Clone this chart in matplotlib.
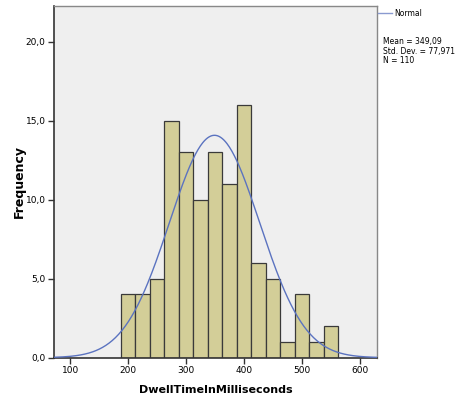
import matplotlib

matplotlib.use("Agg")
import matplotlib.pyplot as plt
import numpy as np
from matplotlib.ticker import FuncFormatter
from matplotlib.lines import Line2D

# histogram of dwell times (bin width 25 ms)
bin_left = [187.5, 212.5, 237.5, 262.5, 287.5, 312.5, 337.5, 362.5,
            387.5, 412.5, 437.5, 462.5, 487.5, 512.5, 537.5]
counts = [4, 4, 5, 15, 13, 10, 13, 11, 16, 6, 5, 1, 4, 1, 2]
bin_width = 25
mean = 349.09
std = 77.971
n = 110
x_ticks = [100, 200, 300, 400, 500, 600]
y_ticks = [0, 5, 10, 15, 20]


def comma(v, decimals):
    return f"{v:.{decimals}f}".replace(".", ",")


fig = plt.figure(figsize=(4.56, 3.98), dpi=100)
ax = fig.add_axes([0.1184, 0.1013, 0.7076, 0.8836])
ax.set_facecolor("#efefef")

ax.bar(bin_left, counts, width=bin_width, align="edge",
       color="#d3ce98", edgecolor="#3a3a3a", linewidth=0.9, zorder=2)

xs = np.linspace(72, 629, 400)
pdf = n * bin_width / (std * np.sqrt(2 * np.pi)) * np.exp(-0.5 * ((xs - mean) / std) ** 2)
ax.plot(xs, pdf, color="#5b73c0", lw=1.0, zorder=3)

ax.set_xlim(72, 629)
ax.set_ylim(0, 22.25)
ax.set_xticks(x_ticks)
ax.set_yticks(y_ticks)
ax.yaxis.set_major_formatter(FuncFormatter(lambda v, p: comma(v, 1)))
ax.tick_params(labelsize=6.5, length=4, width=1.0, color="#333333", pad=2)

for side in ("left", "bottom"):
    ax.spines[side].set_color("#333333")
    ax.spines[side].set_linewidth(1.2)
for side in ("top", "right"):
    ax.spines[side].set_color("#888888")
    ax.spines[side].set_linewidth(1.0)

ax.set_xlabel("DwellTimeInMilliseconds", fontsize=8, fontweight="bold", labelpad=7)
ax.set_ylabel("Frequency", fontsize=9, fontweight="bold", labelpad=0)

# legend and stats outside on the right
fig.add_artist(Line2D([378 / 456, 392 / 456], [1 - 13 / 398, 1 - 13 / 398],
                      color="#8a9ad0", lw=1.0))
fig.text(394 / 456, 1 - 13 / 398, "Normal", fontsize=5.5, va="center")
fig.text(383 / 456, 1 - 37 / 398,
         f"Mean = {comma(mean, 2)}\nStd. Dev. = {comma(std, 3)}\nN = {n}",
         fontsize=5.5, va="top", linespacing=1.1)

fig.savefig("out.png", dpi=100)
plt.close(fig)
